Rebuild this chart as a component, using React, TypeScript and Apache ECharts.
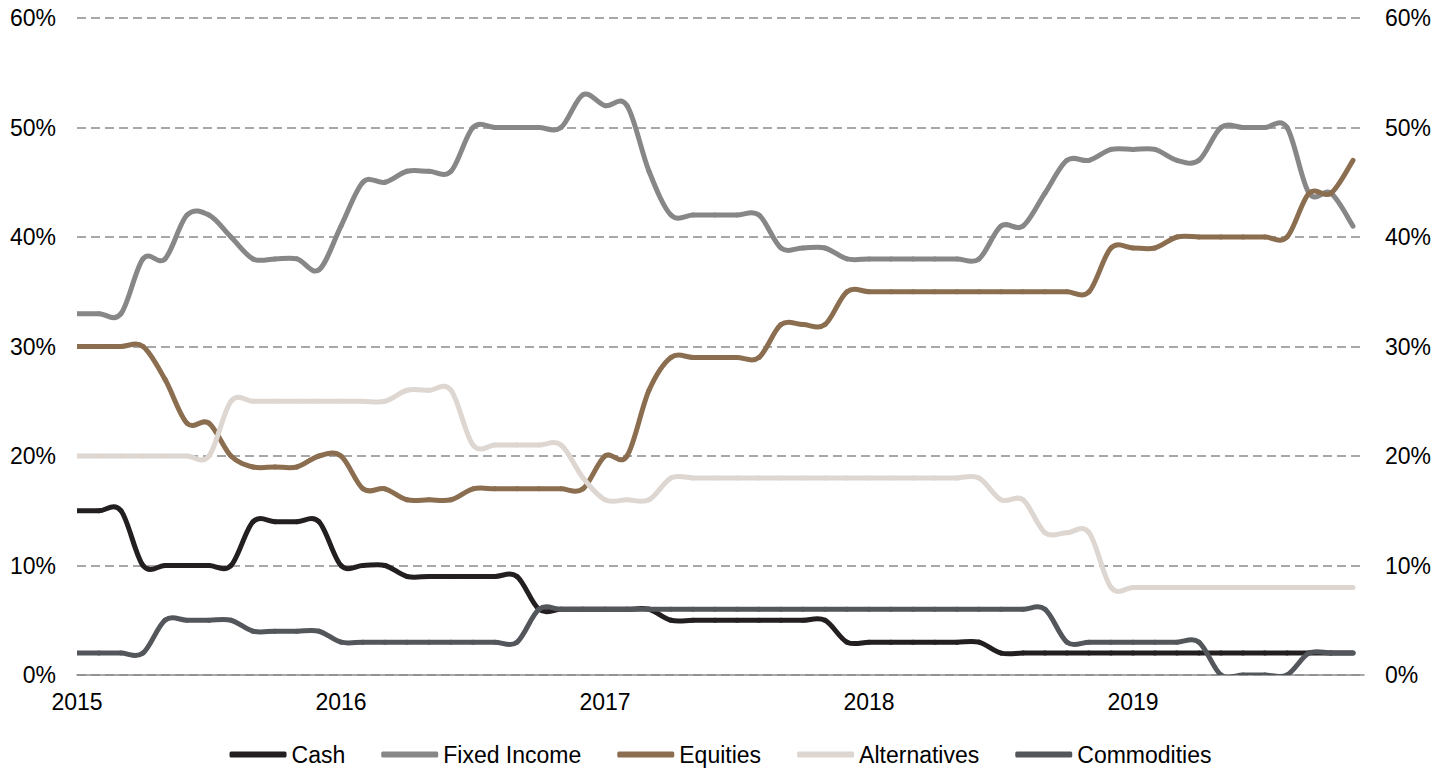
import React, { useEffect, useRef } from "react";
import * as echarts from "echarts";

// Monthly observations, Jan 2015 .. Nov 2019
const months: string[] = [];
for (let y = 2015; y <= 2019; y++) {
  for (let m = 1; m <= 12; m++) {
    if (y === 2019 && m > 11) break;
    months.push(`${y}-${String(m).padStart(2, "0")}`);
  }
}

const yearLabels = ["2015", "2016", "2017", "2018", "2019"];

const cash = [
  15, 15, 15, 10, 10, 10, 10, 10, 14, 14, 14, 14,
  10, 10, 10, 9, 9, 9, 9, 9, 9, 6, 6, 6,
  6, 6, 6, 5, 5, 5, 5, 5, 5, 5, 5, 3,
  3, 3, 3, 3, 3, 3, 2, 2, 2, 2, 2, 2,
  2, 2, 2, 2, 2, 2, 2, 2, 2, 2, 2,
];
const fixedIncome = [
  33, 33, 33, 38, 38, 42, 42, 40, 38, 38, 38, 37,
  41, 45, 45, 46, 46, 46, 50, 50, 50, 50, 50, 53,
  52, 52, 46, 42, 42, 42, 42, 42, 39, 39, 39, 38,
  38, 38, 38, 38, 38, 38, 41, 41, 44, 47, 47, 48,
  48, 48, 47, 47, 50, 50, 50, 50, 44, 44, 41,
];
const equities = [
  30, 30, 30, 30, 27, 23, 23, 20, 19, 19, 19, 20,
  20, 17, 17, 16, 16, 16, 17, 17, 17, 17, 17, 17,
  20, 20, 26, 29, 29, 29, 29, 29, 32, 32, 32, 35,
  35, 35, 35, 35, 35, 35, 35, 35, 35, 35, 35, 39,
  39, 39, 40, 40, 40, 40, 40, 40, 44, 44, 47,
];
const alternatives = [
  20, 20, 20, 20, 20, 20, 20, 25, 25, 25, 25, 25,
  25, 25, 25, 26, 26, 26, 21, 21, 21, 21, 21, 18,
  16, 16, 16, 18, 18, 18, 18, 18, 18, 18, 18, 18,
  18, 18, 18, 18, 18, 18, 16, 16, 13, 13, 13, 8,
  8, 8, 8, 8, 8, 8, 8, 8, 8, 8, 8,
];
const commodities = [
  2, 2, 2, 2, 5, 5, 5, 5, 4, 4, 4, 4,
  3, 3, 3, 3, 3, 3, 3, 3, 3, 6, 6, 6,
  6, 6, 6, 6, 6, 6, 6, 6, 6, 6, 6, 6,
  6, 6, 6, 6, 6, 6, 6, 6, 6, 3, 3, 3,
  3, 3, 3, 3, 0, 0, 0, 0, 2, 2, 2,
];

const seriesNames = ["Cash", "Fixed Income", "Equities", "Alternatives", "Commodities"];
const seriesValues = [cash, fixedIncome, equities, alternatives, commodities];
const seriesColors = ["#231F20", "#878787", "#8B6D4F", "#DDD6D1", "#53575B"];

const FONT = "'Liberation Sans', Arial, sans-serif";

export default function App() {
  const ref = useRef<HTMLDivElement>(null);
  useEffect(() => {
    if (!ref.current) return;
    const chart = echarts.init(ref.current, undefined, { renderer: "svg" });
    const yAxisCommon = {
      type: "value" as const,
      min: 0,
      max: 60,
      interval: 10,
      axisLine: { show: false },
      axisTick: { show: false },
      axisLabel: {
        formatter: "{value}%",
        color: "#000",
        fontFamily: FONT,
        fontSize: 23,
        margin: 21,
      },
    };

    // Catmull-Rom style smoothed segment between point i and i+1 (like a spreadsheet "smoothed line")
    const makeRenderItem = (vals: number[], color: string) => (params: any, api: any) => {
      const i = params.dataIndex;
      const n = vals.length;
      if (i >= n - 1) return { type: "group", children: [] };
      const c = (j: number) => {
        const jj = Math.max(0, Math.min(n - 1, j));
        return api.coord([jj, vals[jj]]);
      };
      const p0 = c(i - 1);
      const p1 = c(i);
      const p2 = c(i + 1);
      const p3 = c(i + 2);
      const m1x = (p2[0] - p0[0]) / 2;
      const m1y = (p2[1] - p0[1]) / 2;
      const m2x = (p3[0] - p1[0]) / 2;
      const m2y = (p3[1] - p1[1]) / 2;
      return {
        type: "bezierCurve",
        shape: {
          x1: p1[0],
          y1: p1[1],
          cpx1: p1[0] + m1x / 3,
          cpy1: p1[1] + m1y / 3,
          cpx2: p2[0] - m2x / 3,
          cpy2: p2[1] - m2y / 3,
          x2: p2[0],
          y2: p2[1],
        },
        style: { stroke: color, fill: null, lineWidth: 5, lineCap: "round", lineJoin: "round" },
        silent: true,
      };
    };

    chart.setOption({
      animation: false,
      backgroundColor: "#fff",
      grid: { left: 77, right: 77, top: 18, bottom: 94, containLabel: false },
      legend: {
        data: seriesNames,
        left: "center",
        top: 738,
        icon: "roundRect",
        itemWidth: 57,
        itemHeight: 6,
        itemGap: 36,
        textStyle: { color: "#000", fontFamily: FONT, fontSize: 23 },
      },
      xAxis: {
        type: "value",
        min: 0,
        max: 58.5,
        interval: 12,
        axisLine: { show: true, lineStyle: { color: "#8C8C8C", width: 1.5 } },
        axisTick: { show: false },
        splitLine: { show: false },
        axisLabel: {
          color: "#000",
          fontFamily: FONT,
          fontSize: 23,
          margin: 15,
          showMaxLabel: false,
          formatter: (v: number) => (v % 12 === 0 ? yearLabels[v / 12] ?? "" : ""),
        },
      },
      yAxis: [
        {
          ...yAxisCommon,
          position: "left",
          splitLine: {
            show: true,
            lineStyle: { color: "#8C8C8C", width: 1.6, type: [9, 5] },
          },
        },
        {
          ...yAxisCommon,
          position: "right",
          splitLine: { show: false },
        },
      ],
      series: seriesNames.map((name, k) => ({
        name,
        type: "custom",
        coordinateSystem: "cartesian2d",
        yAxisIndex: 0,
        clip: true,
        z: 2 + k,
        itemStyle: { color: seriesColors[k] },
        encode: { x: 0, y: 1 },
        renderItem: makeRenderItem(seriesValues[k], seriesColors[k]),
        data: seriesValues[k].map((v, i) => [i, v, months[i]]),
      })),
    });
    return () => chart.dispose();
  }, []);
  return (
    <div
      ref={ref}
      style={{ position: "fixed", left: 0, top: 0, width: 1441, height: 769 }}
    />
  );
}
